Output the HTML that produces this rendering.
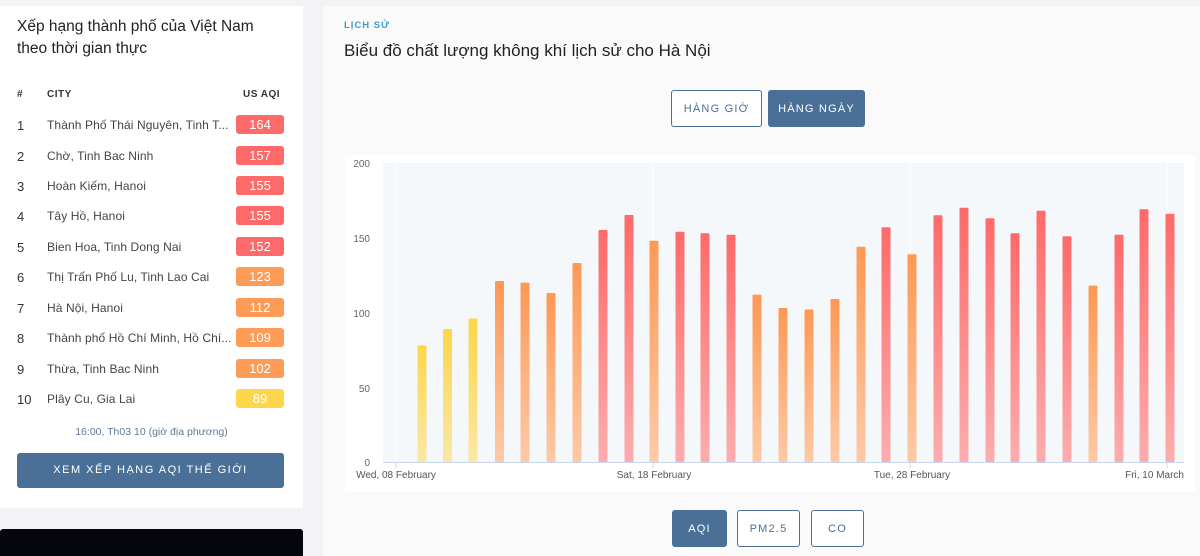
<!DOCTYPE html>
<html><head><meta charset="utf-8"><style>
*{margin:0;padding:0;box-sizing:border-box}
body{width:1200px;height:556px;overflow:hidden;background:#f3f3f5;font-family:"Liberation Sans",Arial,sans-serif;position:relative;color:#333}
.a{position:absolute}
.lc{left:0;top:6px;width:303px;height:502px;background:#fff}
.row{position:absolute;left:17px;font-size:12px;color:#333;width:270px;height:20px}
.row .n{position:absolute;left:0;top:3px;font-size:13px}
.row .c{position:absolute;left:30px;top:3px;color:#444;letter-spacing:.1px}
.row .b{position:absolute;left:219px;top:0;width:48px;height:19px;border-radius:3px;color:#fff;text-align:center;font-size:13px;line-height:19px}
.r{background:#fe6a69}.o{background:#fe9b57}.y{background:#fdd64b}
.btn{position:absolute;border:1px solid #4a7098;border-radius:3px;text-align:center;font-size:11px;letter-spacing:1.2px;color:#4a7098;background:#fff}
.btn.on{background:#4a7098;color:#fff}
</style></head><body>
<div class="a lc"></div>
<div class="a" style="left:17px;top:16px;font-size:15.5px;line-height:22px;color:#222">Xếp hạng thành phố của Việt Nam<br>theo thời gian thực</div>
<div class="a" style="left:17px;top:89px;font-size:10px;font-weight:bold;color:#333">#</div>
<div class="a" style="left:47px;top:89px;font-size:10px;font-weight:bold;color:#333;letter-spacing:.5px">CITY</div>
<div class="a" style="left:243px;top:89px;font-size:10px;font-weight:bold;color:#333;letter-spacing:.5px">US AQI</div>
<div class="row" style="top:115px"><span class="n">1</span><span class="c">Thành Phố Thái Nguyên, Tinh T...</span><span class="b r">164</span></div>
<div class="row" style="top:146px"><span class="n">2</span><span class="c">Chờ, Tinh Bac Ninh</span><span class="b r">157</span></div>
<div class="row" style="top:176px"><span class="n">3</span><span class="c">Hoàn Kiếm, Hanoi</span><span class="b r">155</span></div>
<div class="row" style="top:206px"><span class="n">4</span><span class="c">Tây Hồ, Hanoi</span><span class="b r">155</span></div>
<div class="row" style="top:237px"><span class="n">5</span><span class="c">Bien Hoa, Tinh Dong Nai</span><span class="b r">152</span></div>
<div class="row" style="top:267px"><span class="n">6</span><span class="c">Thị Trấn Phố Lu, Tinh Lao Cai</span><span class="b o">123</span></div>
<div class="row" style="top:298px"><span class="n">7</span><span class="c">Hà Nội, Hanoi</span><span class="b o">112</span></div>
<div class="row" style="top:328px"><span class="n">8</span><span class="c">Thành phố Hồ Chí Minh, Hồ Chí...</span><span class="b o">109</span></div>
<div class="row" style="top:359px"><span class="n">9</span><span class="c">Thừa, Tinh Bac Ninh</span><span class="b o">102</span></div>
<div class="row" style="top:389px"><span class="n">10</span><span class="c">Plây Cu, Gia Lai</span><span class="b y">89</span></div>
<div class="a" style="left:0;width:303px;top:426px;text-align:center;font-size:10.5px;color:#5f7a96">16:00, Th03 10 (giờ địa phương)</div>
<div class="a" style="left:17px;top:453px;width:267px;height:35px;background:#4a7098;border-radius:3px;color:#fff;font-size:11px;letter-spacing:1.5px;text-align:center;line-height:35px">XEM XẾP HẠNG AQI THẾ GIỚI</div>
<div class="a" style="left:0;top:529px;width:303px;height:27px;background:#05060d;border-radius:3px 3px 0 0"></div>

<div class="a" style="left:323px;top:6px;width:877px;height:550px;background:#fafafa"></div>
<div class="a" style="left:344px;top:20px;font-size:9.5px;font-weight:bold;color:#3a9fd0;letter-spacing:1px">LỊCH SỬ</div>
<div class="a" style="left:344px;top:41px;font-size:17px;color:#222">Biểu đồ chất lượng không khí lịch sử cho Hà Nội</div>
<div class="btn" style="left:671px;top:90px;width:91px;height:37px;line-height:36px">HÀNG GIỜ</div>
<div class="btn on" style="left:768px;top:90px;width:97px;height:37px;line-height:36px">HÀNG NGÀY</div>
<div class="btn on" style="left:672px;top:510px;width:55px;height:37px;line-height:36px">AQI</div>
<div class="btn" style="left:737px;top:510px;width:63px;height:37px;line-height:36px">PM2.5</div>
<div class="btn" style="left:811px;top:510px;width:53px;height:37px;line-height:36px">CO</div>

<svg class="a" style="left:0;top:0" width="1200" height="556">
<defs>
<linearGradient id="gy" x1="0" y1="0" x2="0" y2="1"><stop offset="0" stop-color="#fdd64b"/><stop offset="1" stop-color="#f9e8a6"/></linearGradient>
<linearGradient id="go" x1="0" y1="0" x2="0" y2="1"><stop offset="0" stop-color="#fe9854"/><stop offset="1" stop-color="#fdcaa6"/></linearGradient>
<linearGradient id="gr" x1="0" y1="0" x2="0" y2="1"><stop offset="0" stop-color="#fe6a69"/><stop offset="1" stop-color="#fdadad"/></linearGradient>
</defs>
<rect x="345" y="155" width="850" height="337" fill="#fff"/>
<rect x="383" y="163" width="801" height="299" fill="#f5f8fa"/>
<g stroke="#fff" stroke-width="1">
<line x1="396" y1="163" x2="396" y2="462"/><line x1="653" y1="163" x2="653" y2="462"/><line x1="910" y1="163" x2="910" y2="462"/><line x1="1167" y1="163" x2="1167" y2="462"/>
</g>
<g>
<rect x="417.5" y="345.4" width="9" height="116.6" fill="url(#gy)" rx="1"/>
<rect x="443" y="329" width="9" height="133" fill="url(#gy)" rx="1"/>
<rect x="468.5" y="318.5" width="9" height="143.5" fill="url(#gy)" rx="1"/>
<rect x="495" y="281" width="9" height="181" fill="url(#go)" rx="1"/>
<rect x="520.5" y="282.6" width="9" height="179.4" fill="url(#go)" rx="1"/>
<rect x="546.5" y="293" width="9" height="169" fill="url(#go)" rx="1"/>
<rect x="572.5" y="263" width="9" height="199" fill="url(#go)" rx="1"/>
<rect x="598.5" y="230" width="9" height="232" fill="url(#gr)" rx="1"/>
<rect x="624.5" y="215" width="9" height="247" fill="url(#gr)" rx="1"/>
<rect x="649.5" y="240.7" width="9" height="221.3" fill="url(#go)" rx="1"/>
<rect x="675.5" y="231.8" width="9" height="230.2" fill="url(#gr)" rx="1"/>
<rect x="700.5" y="233.3" width="9" height="228.7" fill="url(#gr)" rx="1"/>
<rect x="726.5" y="234.8" width="9" height="227.2" fill="url(#gr)" rx="1"/>
<rect x="752.5" y="294.6" width="9" height="167.4" fill="url(#go)" rx="1"/>
<rect x="778.5" y="308" width="9" height="154" fill="url(#go)" rx="1"/>
<rect x="804.5" y="309.5" width="9" height="152.5" fill="url(#go)" rx="1"/>
<rect x="830.5" y="299" width="9" height="163" fill="url(#go)" rx="1"/>
<rect x="856.5" y="246.7" width="9" height="215.3" fill="url(#go)" rx="1"/>
<rect x="881.5" y="227.3" width="9" height="234.7" fill="url(#gr)" rx="1"/>
<rect x="907.5" y="254.2" width="9" height="207.8" fill="url(#go)" rx="1"/>
<rect x="933.5" y="215.3" width="9" height="246.7" fill="url(#gr)" rx="1"/>
<rect x="959.5" y="207.8" width="9" height="254.2" fill="url(#gr)" rx="1"/>
<rect x="985.5" y="218.3" width="9" height="243.7" fill="url(#gr)" rx="1"/>
<rect x="1010.5" y="233.3" width="9" height="228.7" fill="url(#gr)" rx="1"/>
<rect x="1036.5" y="210.8" width="9" height="251.2" fill="url(#gr)" rx="1"/>
<rect x="1062.5" y="236.3" width="9" height="225.7" fill="url(#gr)" rx="1"/>
<rect x="1088.5" y="285.6" width="9" height="176.4" fill="url(#go)" rx="1"/>
<rect x="1114.5" y="234.8" width="9" height="227.2" fill="url(#gr)" rx="1"/>
<rect x="1139.5" y="209.3" width="9" height="252.7" fill="url(#gr)" rx="1"/>
<rect x="1165.5" y="213.8" width="9" height="248.2" fill="url(#gr)" rx="1"/>
</g>
<line x1="383" y1="462.5" x2="1184" y2="462.5" stroke="#ccd6eb"/>
<g stroke="#ccd6eb"><line x1="396" y1="462" x2="396" y2="468"/><line x1="653" y1="462" x2="653" y2="468"/><line x1="910" y1="462" x2="910" y2="468"/><line x1="1167" y1="462" x2="1167" y2="468"/></g>
<g font-family="Liberation Sans,Arial,sans-serif" font-size="10" fill="#666" text-anchor="end">
<text x="370" y="167">200</text><text x="370" y="242">150</text><text x="370" y="317">100</text><text x="370" y="392">50</text><text x="370" y="466">0</text>
</g>
<g font-family="Liberation Sans,Arial,sans-serif" font-size="10" fill="#555" text-anchor="middle">
<text x="396" y="478">Wed, 08 February</text><text x="654" y="478">Sat, 18 February</text><text x="912" y="478">Tue, 28 February</text><text x="1184" y="478" text-anchor="end">Fri, 10 March</text>
</g>
</svg>
</body></html>
